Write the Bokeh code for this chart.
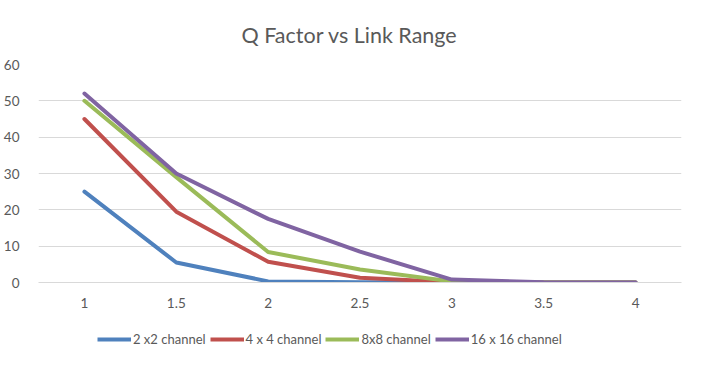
from bokeh.plotting import figure
from bokeh.layouts import column
from bokeh.models import FactorRange, Range1d, Legend, LegendItem, FixedTicker
from bokeh.embed import file_html
from bokeh.resources import INLINE

categories = ["1", "1.5", "2", "2.5", "3", "3.5", "4"]
series_names = ["2 x2 channel", "4 x 4 channel", "8x8 channel", "16 x 16 channel"]
s2x2 = [25.0, 5.5, 0.3, 0.1, 0.0, 0.0, 0.0]
s4x4 = [45.0, 19.5, 5.7, 1.3, 0.1, 0.0, 0.0]
s8x8 = [50.0, 29.0, 8.4, 3.6, 0.3, 0.0, 0.0]
s16x16 = [52.0, 30.0, 17.5, 8.5, 0.8, 0.1, 0.0]
y_ticks = [0, 10, 20, 30, 40, 50, 60]
colors = ["#4F81BD", "#C0504D", "#9BBB59", "#8064A2"]

FONT = "Lato"
GREY = "#595959"

p = figure(width=689, height=310, x_range=FactorRange(factors=categories),
           y_range=Range1d(0, 60), output_backend="svg", toolbar_location=None,
           min_border_left=31, min_border_right=8, min_border_top=64, min_border_bottom=27,
           title="Q Factor vs Link Range")
p.outline_line_color = None

p.title.align = "left"
p.title.offset = 203
p.title.text_font = FONT
p.title.text_font_size = "21.5px"
p.title.text_font_style = "normal"
p.title.text_color = GREY
p.title.standoff = 34

series = [s2x2, s4x4, s8x8, s16x16]
for vals, c in zip(series, colors):
    p.line(categories, vals, line_color=c, line_width=4, line_cap="round", line_join="round")

p.yaxis.ticker = FixedTicker(ticks=y_ticks)
p.yaxis.axis_line_color = None
p.yaxis.major_tick_line_color = None
p.yaxis.minor_tick_line_color = None
p.yaxis.major_label_text_font = FONT
p.yaxis.major_label_text_font_size = "13.5px"
p.yaxis.major_label_text_color = GREY
p.yaxis.major_label_standoff = 13

p.xaxis.axis_line_color = "#D9D9D9"
p.xaxis.major_tick_line_color = None
p.xaxis.minor_tick_line_color = None
p.xaxis.major_label_text_font = FONT
p.xaxis.major_label_text_font_size = "13.5px"
p.xaxis.major_label_text_color = GREY
p.xaxis.major_label_standoff = 9

p.xgrid.grid_line_color = None
p.ygrid.grid_line_color = "#D9D9D9"
p.ygrid.grid_line_width = 1

# legend strip below the chart (series drawn off-range; only their legend glyphs show)
lg = figure(width=689, height=40, x_axis_type=None, y_axis_type=None,
            x_range=FactorRange(factors=categories), y_range=Range1d(1000, 1001),
            output_backend="svg", toolbar_location=None,
            min_border=0, min_border_left=0, min_border_right=0,
            min_border_top=0, min_border_bottom=0)
lg.outline_line_color = None
lg.xgrid.visible = False
lg.ygrid.visible = False
items = []
for n, vals, c in zip(series_names, series, colors):
    r = lg.line(categories, vals, line_color=c, line_width=4)
    items.append(LegendItem(label=n, renderers=[r]))
legend = Legend(items=items, orientation="horizontal", location=(59, 1),
                label_text_font=FONT, label_text_font_size="13px", label_text_color=GREY,
                glyph_width=34, label_standoff=2, spacing=4, padding=4, margin=0,
                border_line_color=None, background_fill_alpha=0)
lg.add_layout(legend, "center")

layout = column(p, lg, spacing=0)
open("out.html", "w").write(file_html(layout, INLINE))
